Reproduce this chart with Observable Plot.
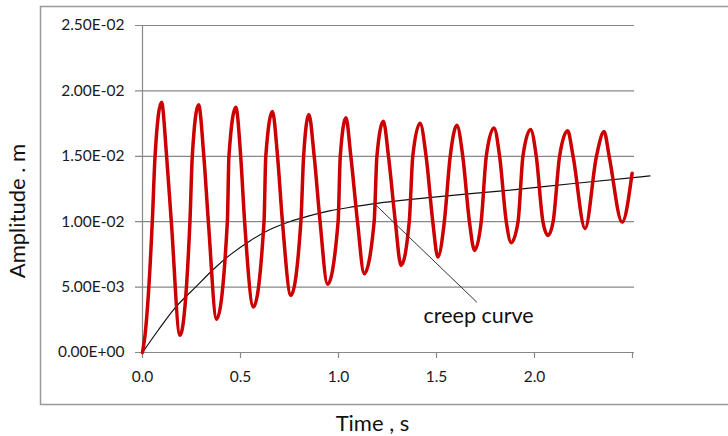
<!DOCTYPE html>
<html>
<head>
<meta charset="utf-8">
<script src="https://cdn.jsdelivr.net/npm/d3@7"></script>
<script src="https://cdn.jsdelivr.net/npm/@observablehq/plot@0.6"></script>
<style>
  html, body { margin: 0; padding: 0; background: #fff; }
  #chart { width: 728px; height: 436px; overflow: hidden; }
</style>
</head>
<body>
<div id="chart"></div>
<script>
// Axis ticks and labels
const xTicks = [0, 0.5, 1.0, 1.5, 2.0, 2.5];
const xTickLabels = ["0.0", "0.5", "1.0", "1.5", "2.0", ""];
const yTicks = [0, 0.005, 0.010, 0.015, 0.020, 0.025];
const yTickLabels = ["0.00E+00", "5.00E-03", "1.00E-02", "1.50E-02", "2.00E-02", "2.50E-02"];

// Oscillating response (red), time in s, amplitude in m
const oscTime = [
  0, 0.012, 0.050, 0.064, 0.097, 0.123, 0.147, 0.191,
  0.242, 0.254, 0.286, 0.313, 0.336, 0.378,
  0.433, 0.441, 0.476, 0.501, 0.521, 0.566,
  0.620, 0.629, 0.663, 0.689, 0.714, 0.757,
  0.808, 0.822, 0.849, 0.876, 0.906, 0.944,
  0.998, 1.009, 1.038, 1.063, 1.097, 1.131,
  1.182, 1.196, 1.229, 1.255, 1.290, 1.319,
  1.361, 1.379, 1.416, 1.447, 1.481, 1.507,
  1.540, 1.570, 1.604, 1.634, 1.668, 1.694,
  1.728, 1.754, 1.793, 1.822, 1.856, 1.881,
  1.916, 1.941, 1.980, 2.009, 2.043, 2.069,
  2.095, 2.128, 2.169, 2.197, 2.258,
  2.316, 2.355, 2.381, 2.447, 2.498
];
const oscAmp = [
  0, 0.0012, 0.0100, 0.0150, 0.01913, 0.0150, 0.0100, 0.00132,
  0.0100, 0.0150, 0.01895, 0.0150, 0.0100, 0.00254,
  0.0100, 0.0150, 0.01875, 0.0150, 0.0100, 0.00348,
  0.0100, 0.0150, 0.01842, 0.0150, 0.0100, 0.00437,
  0.0100, 0.0150, 0.01820, 0.0150, 0.0100, 0.00521,
  0.0100, 0.0150, 0.01794, 0.0150, 0.0100, 0.00603,
  0.0100, 0.0150, 0.01768, 0.0150, 0.0100, 0.00666,
  0.0100, 0.0150, 0.01753, 0.0150, 0.0100, 0.00730,
  0.0100, 0.0150, 0.01737, 0.0150, 0.0100, 0.00781,
  0.0100, 0.0150, 0.01717, 0.0150, 0.0100, 0.00840,
  0.0100, 0.0150, 0.01705, 0.0150, 0.0100, 0.00895,
  0.0100, 0.0150, 0.01695, 0.0150, 0.00947,
  0.0150, 0.01689, 0.0150, 0.00997, 0.0137
];

// Creep curve (black)
const creepTime = [0, 0.08, 0.16, 0.271, 0.365, 0.45, 0.55, 0.65, 0.75, 0.85, 0.96, 1.08, 1.183, 1.50, 1.85, 2.20, 2.589];
const creepAmp  = [0, 0.0017, 0.0033, 0.0050, 0.0064, 0.0075, 0.00855, 0.0094, 0.0100, 0.01045, 0.01085, 0.01115, 0.01138, 0.0119, 0.01238, 0.01292, 0.0135];

// Annotation
const annText = "creep curve";
const annPos = {x: 1.715, y: 0.0028};
const leader = {x1: 1.183, y1: 0.01138, x2: 1.706, y2: 0.00384};

const osc = oscTime.map((t, i) => ({t, a: oscAmp[i]}));
const creep = creepTime.map((t, i) => ({t, a: creepAmp[i]}));

const gridColor = "#888888";

const chart = Plot.plot({
  width: 728,
  height: 436,
  marginLeft: 142,
  marginRight: 96,
  marginTop: 25,
  marginBottom: 84,
  style: {fontFamily: "Lato, 'Open Sans', sans-serif", fontSize: "15.5px", color: "#1a1a1a", background: "#fff"},
  x: {domain: [0, 2.5], axis: null},
  y: {domain: [0, 0.025], axis: null},
  marks: [
    // outer chart border
    Plot.frame({stroke: "#999", strokeWidth: 1.5, insetLeft: -102, insetTop: -19, insetBottom: -52, insetRight: -110}),
    // horizontal gridlines with left tick marks
    Plot.ruleY(yTicks, {stroke: gridColor, strokeWidth: 1.2, insetLeft: -7, insetRight: -2}),
    // y axis line
    Plot.ruleX([0], {stroke: gridColor, strokeWidth: 1.2}),
    // x tick marks
    Plot.ruleX(xTicks, {y1: 0, y2: 0, insetBottom: -6, stroke: gridColor, strokeWidth: 1.2}),
    // tick labels
    Plot.axisX({ticks: xTicks, tickFormat: (d) => xTickLabels[xTicks.indexOf(d)], tickSize: 0, tickPadding: 18, label: null, fill: "#1a1a1a", fontSize: 15.5}),
    Plot.axisY({ticks: yTicks, tickFormat: (d) => yTickLabels[yTicks.indexOf(d)], tickSize: 0, tickPadding: 18, label: null, fill: "#1a1a1a", fontSize: 15.5}),
    // creep curve
    Plot.line(creep, {x: "t", y: "a", stroke: "#111", strokeWidth: 1.2, curve: "monotone-x"}),
    // oscillating response
    Plot.line(osc, {x: "t", y: "a", stroke: "#cc0000", strokeWidth: 3.5, curve: "monotone-x"}),
    // leader line and annotation
    Plot.link([leader], {x1: "x1", y1: "y1", x2: "x2", y2: "y2", stroke: "#333", strokeWidth: 1}),
    Plot.text([annPos], {x: "x", y: "y", text: () => annText, fontSize: 21.5, fill: "#111", textAnchor: "middle", lineAnchor: "middle"}),
    // axis titles
    Plot.text(["Time , s"], {frameAnchor: "bottom", text: d => d, dx: -15, dy: 71, fontSize: 22, fill: "#111", lineAnchor: "middle"}),
    Plot.text(["Amplitude . m"], {frameAnchor: "left", text: d => d, dx: -125, dy: 22, rotate: -90, fontSize: 22, fill: "#111", lineAnchor: "middle", textAnchor: "middle"})
  ]
});
document.getElementById("chart").appendChild(chart);
</script>
</body>
</html>
